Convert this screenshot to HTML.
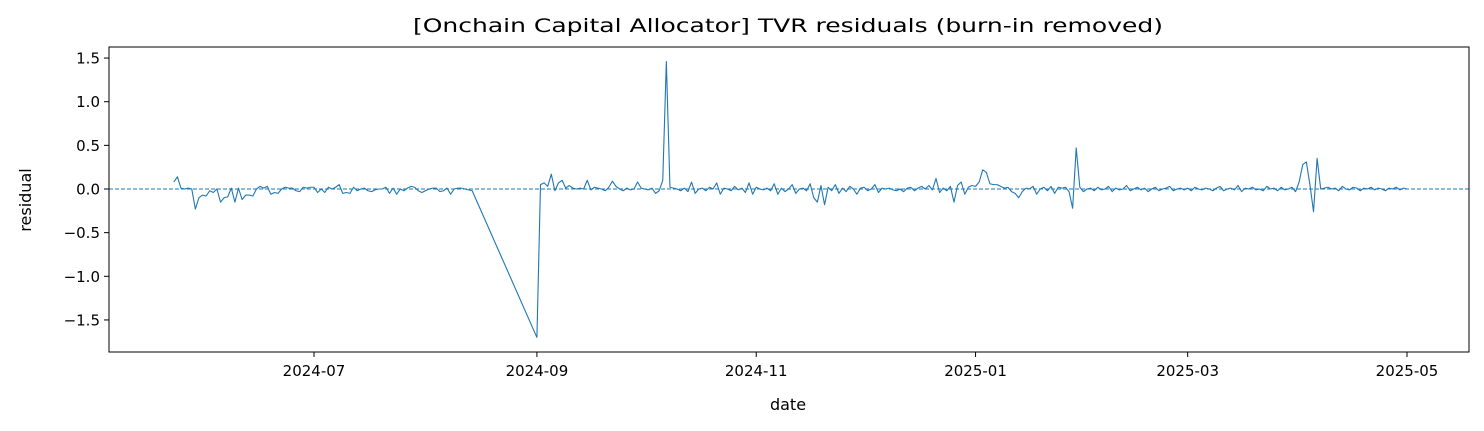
<!DOCTYPE html>
<html><head><meta charset="utf-8"><style>body{margin:0;background:#fff}svg{display:block}text{font-family:"DejaVu Sans","Liberation Sans",sans-serif;fill:#000}</style></head>
<body>
<svg id="chart" width="1484" height="431" xmlns="http://www.w3.org/2000/svg">
<text x="788" y="32" font-size="19" text-anchor="middle" textLength="750" lengthAdjust="spacingAndGlyphs">[Onchain Capital Allocator] TVR residuals (burn-in removed)</text>
<text x="788" y="410" font-size="16" text-anchor="middle">date</text>
<text transform="translate(31,200) rotate(-90)" font-size="16" text-anchor="middle">residual</text>
<g id="plot"></g>
</svg>
<script>
const seg1Start = "2024-05-23";
const seg1Values = [0.08,0.14,0.01,0,0.01,0,-0.23,-0.1,-0.07,-0.08,-0.02,-0.04,0,-0.15,-0.1,-0.09,0.01,-0.15,0.01,-0.12,-0.07,-0.07,-0.08,0,0.03,0.01,0.03,-0.06,-0.04,-0.05,0,0.02,0.01,0.01,-0.02,-0.03,0.02,0.01,0.02,0.02,-0.04,0,-0.04,0.02,0,0.02,0.05,-0.05,-0.04,-0.05,0.02,-0.02,0,0.01,-0.02,-0.03,-0.01,0,0,0.02,-0.05,0.01,-0.06,0,-0.02,0.01,0.03,0.02,-0.02,-0.04,-0.02,0,0.01,0.01,-0.03,-0.02,0.01,-0.06,0,0.01,0.01,0,-0.01,-0.02];
const seg2Start = "2024-09-01";
const seg2Values = [-1.70,0.05,0.07,0.03,0.17,-0.02,0.07,0.1,0.01,0.04,0.01,0,0.01,0,0.1,-0.01,0.02,0.01,0,-0.02,0.02,0.09,0.03,0,-0.02,0.01,-0.01,0,0.08,0.01,
0,-0.01,0.01,-0.05,-0.02,0.1,1.46,0.02,0.01,0,-0.02,0.01,-0.03,0.08,-0.05,0,0.01,-0.02,0.02,0,0.07,-0.06,0.01,0,-0.02,0.03,-0.01,0.01,-0.04,0.07,-0.06,
0.02,0,-0.01,0.01,-0.02,0.06,-0.06,0.01,-0.03,0,0.05,-0.05,0,0.01,-0.02,0.06,-0.1,-0.15,0.04,-0.18,0.02,-0.02,0.05,-0.05,0.01,-0.03,0.03,0,-0.06,0.01,
0.02,-0.02,0,0.05,-0.04,0.01,0,0.01,-0.01,-0.02,0,-0.03,0.01,0.02,-0.02,0.01,0.03,0,0.04,-0.01,0.12,-0.04,0.01,-0.02,0.03,-0.15,0.04,0.08,-0.06,0.02,0.04,
0.03,0.08,0.22,0.19,0.06,0.05,0.05,0.03,0.01,0.02,-0.03,-0.05,-0.1,-0.03,0.01,0,0.03,-0.06,0,0.02,-0.02,0.03,-0.05,0.02,0.01,0.02,-0.03,-0.22,0.47,0.02,-0.03,
0,0.01,-0.02,0.02,-0.01,0,0.03,-0.03,0.01,-0.01,0,0.04,-0.02,0,0.02,-0.01,0.01,-0.03,0,0.02,-0.02,0,0.01,0.03,-0.02,0,0.01,-0.01,
0.01,-0.02,0.02,0,-0.01,0.01,0,-0.02,0.01,0.03,-0.02,0,0.01,-0.01,0.04,-0.03,0.01,0,0.02,-0.01,0,-0.02,0.03,0,0.01,-0.02,0.02,-0.01,0,0.02,-0.03,
0.08,0.28,0.31,0.05,-0.26,0.35,0,0.01,0.02,0,0.01,-0.02,0.03,0,-0.01,0.02,0.01,-0.02,0.01,0,0.02,-0.01,0.01,0,-0.02,0.01,0,0.02,-0.01,0.01,
0.0];
const yTicks = [1.5,1.0,0.5,0.0,-0.5,-1.0,-1.5];
const xTickLabels = ["2024-07","2024-09","2024-11","2025-01","2025-03","2025-05"];

const NS="http://www.w3.org/2000/svg";
const L=109,R=1469,T=47,B=352;
const DAY=86400000;
const d0=Date.UTC(2024,6,1), d1=Date.UTC(2025,4,1);
function xScale(t){return 314+(t-d0)/(d1-d0)*(1407-314);}
function yScale(v){return 189-v*87.3;}
function parse(s){const p=s.split("-");return Date.UTC(+p[0],+p[1]-1,+(p[2]||1));}
const g=document.getElementById('plot');
function mk(tag,attrs){const e=document.createElementNS(NS,tag);for(const k in attrs)e.setAttribute(k,attrs[k]);g.appendChild(e);return e;}

yTicks.forEach(v=>{
  const y=yScale(v);
  const tk=mk('line',{x1:L-5,x2:L,y1:y,y2:y,stroke:'#000','stroke-width':1});
  
  
  const t=mk('text',{x:L-9,y:y+5.5,'font-size':15,'text-anchor':'end'});
  
  
  t.textContent=(v<0?'\u2212':'')+Math.abs(v).toFixed(1);
});
xTickLabels.forEach(s=>{
  const x=xScale(parse(s));
  const tk=mk('line',{x1:x,x2:x,y1:B,y2:B+5,stroke:'#000','stroke-width':1});
  
  
  const t=mk('text',{x:x,y:B+24,'font-size':15,'text-anchor':'middle'});
  
  
  t.textContent=s;
});
const zl=mk('line',{x1:L,x2:R,y1:yScale(0),y2:yScale(0),stroke:'#1f77b4','stroke-width':1,'stroke-dasharray':'4,2'});



const pts=[];
const s1=parse(seg1Start), s2=parse(seg2Start);
seg1Values.forEach((v,i)=>pts.push([xScale(s1+i*DAY),yScale(v)]));
seg2Values.forEach((v,i)=>pts.push([xScale(s2+i*DAY),yScale(v)]));
const line=mk('polyline',{points:pts.map(p=>p[0].toFixed(2)+','+p[1].toFixed(2)).join(' '),fill:'none',stroke:'#1f77b4','stroke-width':1.1,'stroke-linejoin':'round'});



const frame=mk('rect',{x:L,y:T,width:R-L,height:B-T,fill:'none',stroke:'#000','stroke-width':1});


</script>
</body></html>
